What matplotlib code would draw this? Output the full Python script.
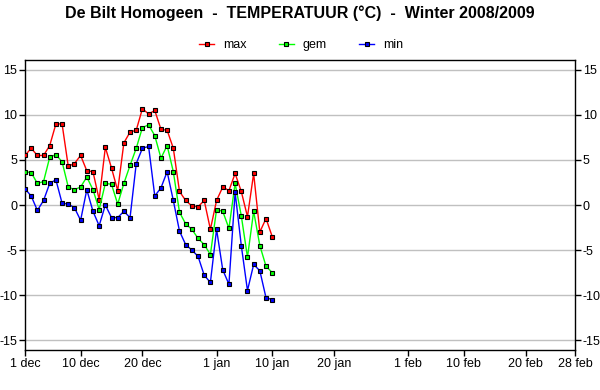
import matplotlib
matplotlib.use("Agg")
import matplotlib.pyplot as plt

plt.rcParams['font.family'] = ['Liberation Sans', 'DejaVu Sans']

# day index from 1 dec 2008
days = list(range(41))
t_max = [5.5, 6.3, 5.5, 5.5, 6.6, 9.0, 9.0, 4.3, 4.6, 5.5, 3.8, 3.7, 0.6, 6.4, 4.1,
         1.6, 6.9, 8.1, 8.3, 10.7, 10.1, 10.5, 8.4, 8.3, 6.3, 1.5, 0.5, -0.1, -0.2,
         0.5, -2.7, 0.5, 2.0, 1.6, 3.5, 1.5, -1.3, 3.5, -3.0, -1.5, -3.5]
t_gem = [3.7, 3.6, 2.4, 2.6, 5.3, 5.6, 4.8, 2.0, 1.7, 2.0, 3.1, 1.7, -0.5, 2.4, 2.3,
         0.1, 2.4, 4.4, 6.3, 8.6, 8.9, 7.7, 5.2, 6.6, 3.7, -0.8, -2.1, -2.7, -3.7,
         -4.4, -5.5, -0.5, -0.7, -2.6, 2.4, -1.2, -5.8, -0.7, -4.5, -6.8, -7.5]
t_min = [1.8, 1.0, -0.6, 0.5, 2.4, 2.8, 0.2, 0.1, -0.3, -1.7, 1.7, -0.7, -2.3, 0.0, -1.4,
         -1.4, -0.7, -1.4, 4.6, 6.3, 6.5, 1.0, 1.9, 3.7, 0.5, -2.9, -4.4, -5.0, -5.7,
         -7.8, -8.6, -2.7, -7.2, -8.8, 1.4, -4.5, -9.5, -6.6, -7.3, -10.3, -10.5]

tick_days = [0, 9, 19, 31, 40, 50, 62, 71, 81, 89]
tick_labels = ["1 dec", "10 dec", "20 dec", "1 jan", "10 jan", "20 jan",
               "1 feb", "10 feb", "20 feb", "28 feb"]
y_ticks = [-15, -10, -5, 0, 5, 10, 15]

fig = plt.figure(figsize=(6, 3.9), dpi=100)
ax = fig.add_axes([25/600, 1-350/390, 550/600, 290/390])

series = [("max", t_max, "#ff0000"), ("gem", t_gem, "#00ff00"), ("min", t_min, "#0000ff")]
handles = []
for name, vals, col in series:
    h, = ax.plot(days, vals, color=col, lw=1.0, marker='s', markersize=3.0,
                 markerfacecolor=col, markeredgecolor='black', markeredgewidth=0.8,
                 label=name, zorder=3)
    handles.append(h)

ax.set_xlim(0, 89)
ax.set_ylim(-16.1, 16.1)
ax.set_xticks(tick_days)
ax.set_xticklabels(tick_labels)
ax.set_yticks(y_ticks)
ax.set_yticklabels([str(v) for v in y_ticks])
ax.yaxis.grid(True, color='#c0c0c0', lw=1.0)
ax.set_axisbelow(True)
ax.tick_params(axis='both', direction='out', length=4, width=1, labelsize=9,
               colors='black', pad=1.5)
ax.tick_params(axis='y', left=True, right=True, labelleft=True, labelright=True)
for sp in ax.spines.values():
    sp.set_color('black')
    sp.set_linewidth(1.0)

fig.text(0.5, 1-13/390, "De Bilt Homogeen  -  TEMPERATUUR (°C)  -  Winter 2008/2009",
         ha='center', va='center', fontsize=11.5, fontweight='bold')

fig.legend(handles=handles, loc='center', bbox_to_anchor=(301/600, 1-45/390),
           ncol=3, frameon=False, fontsize=9, handlelength=1.2, handletextpad=0.7,
           columnspacing=2.6, borderpad=0, markerscale=1.0)

fig.savefig("out.png", dpi=100)
